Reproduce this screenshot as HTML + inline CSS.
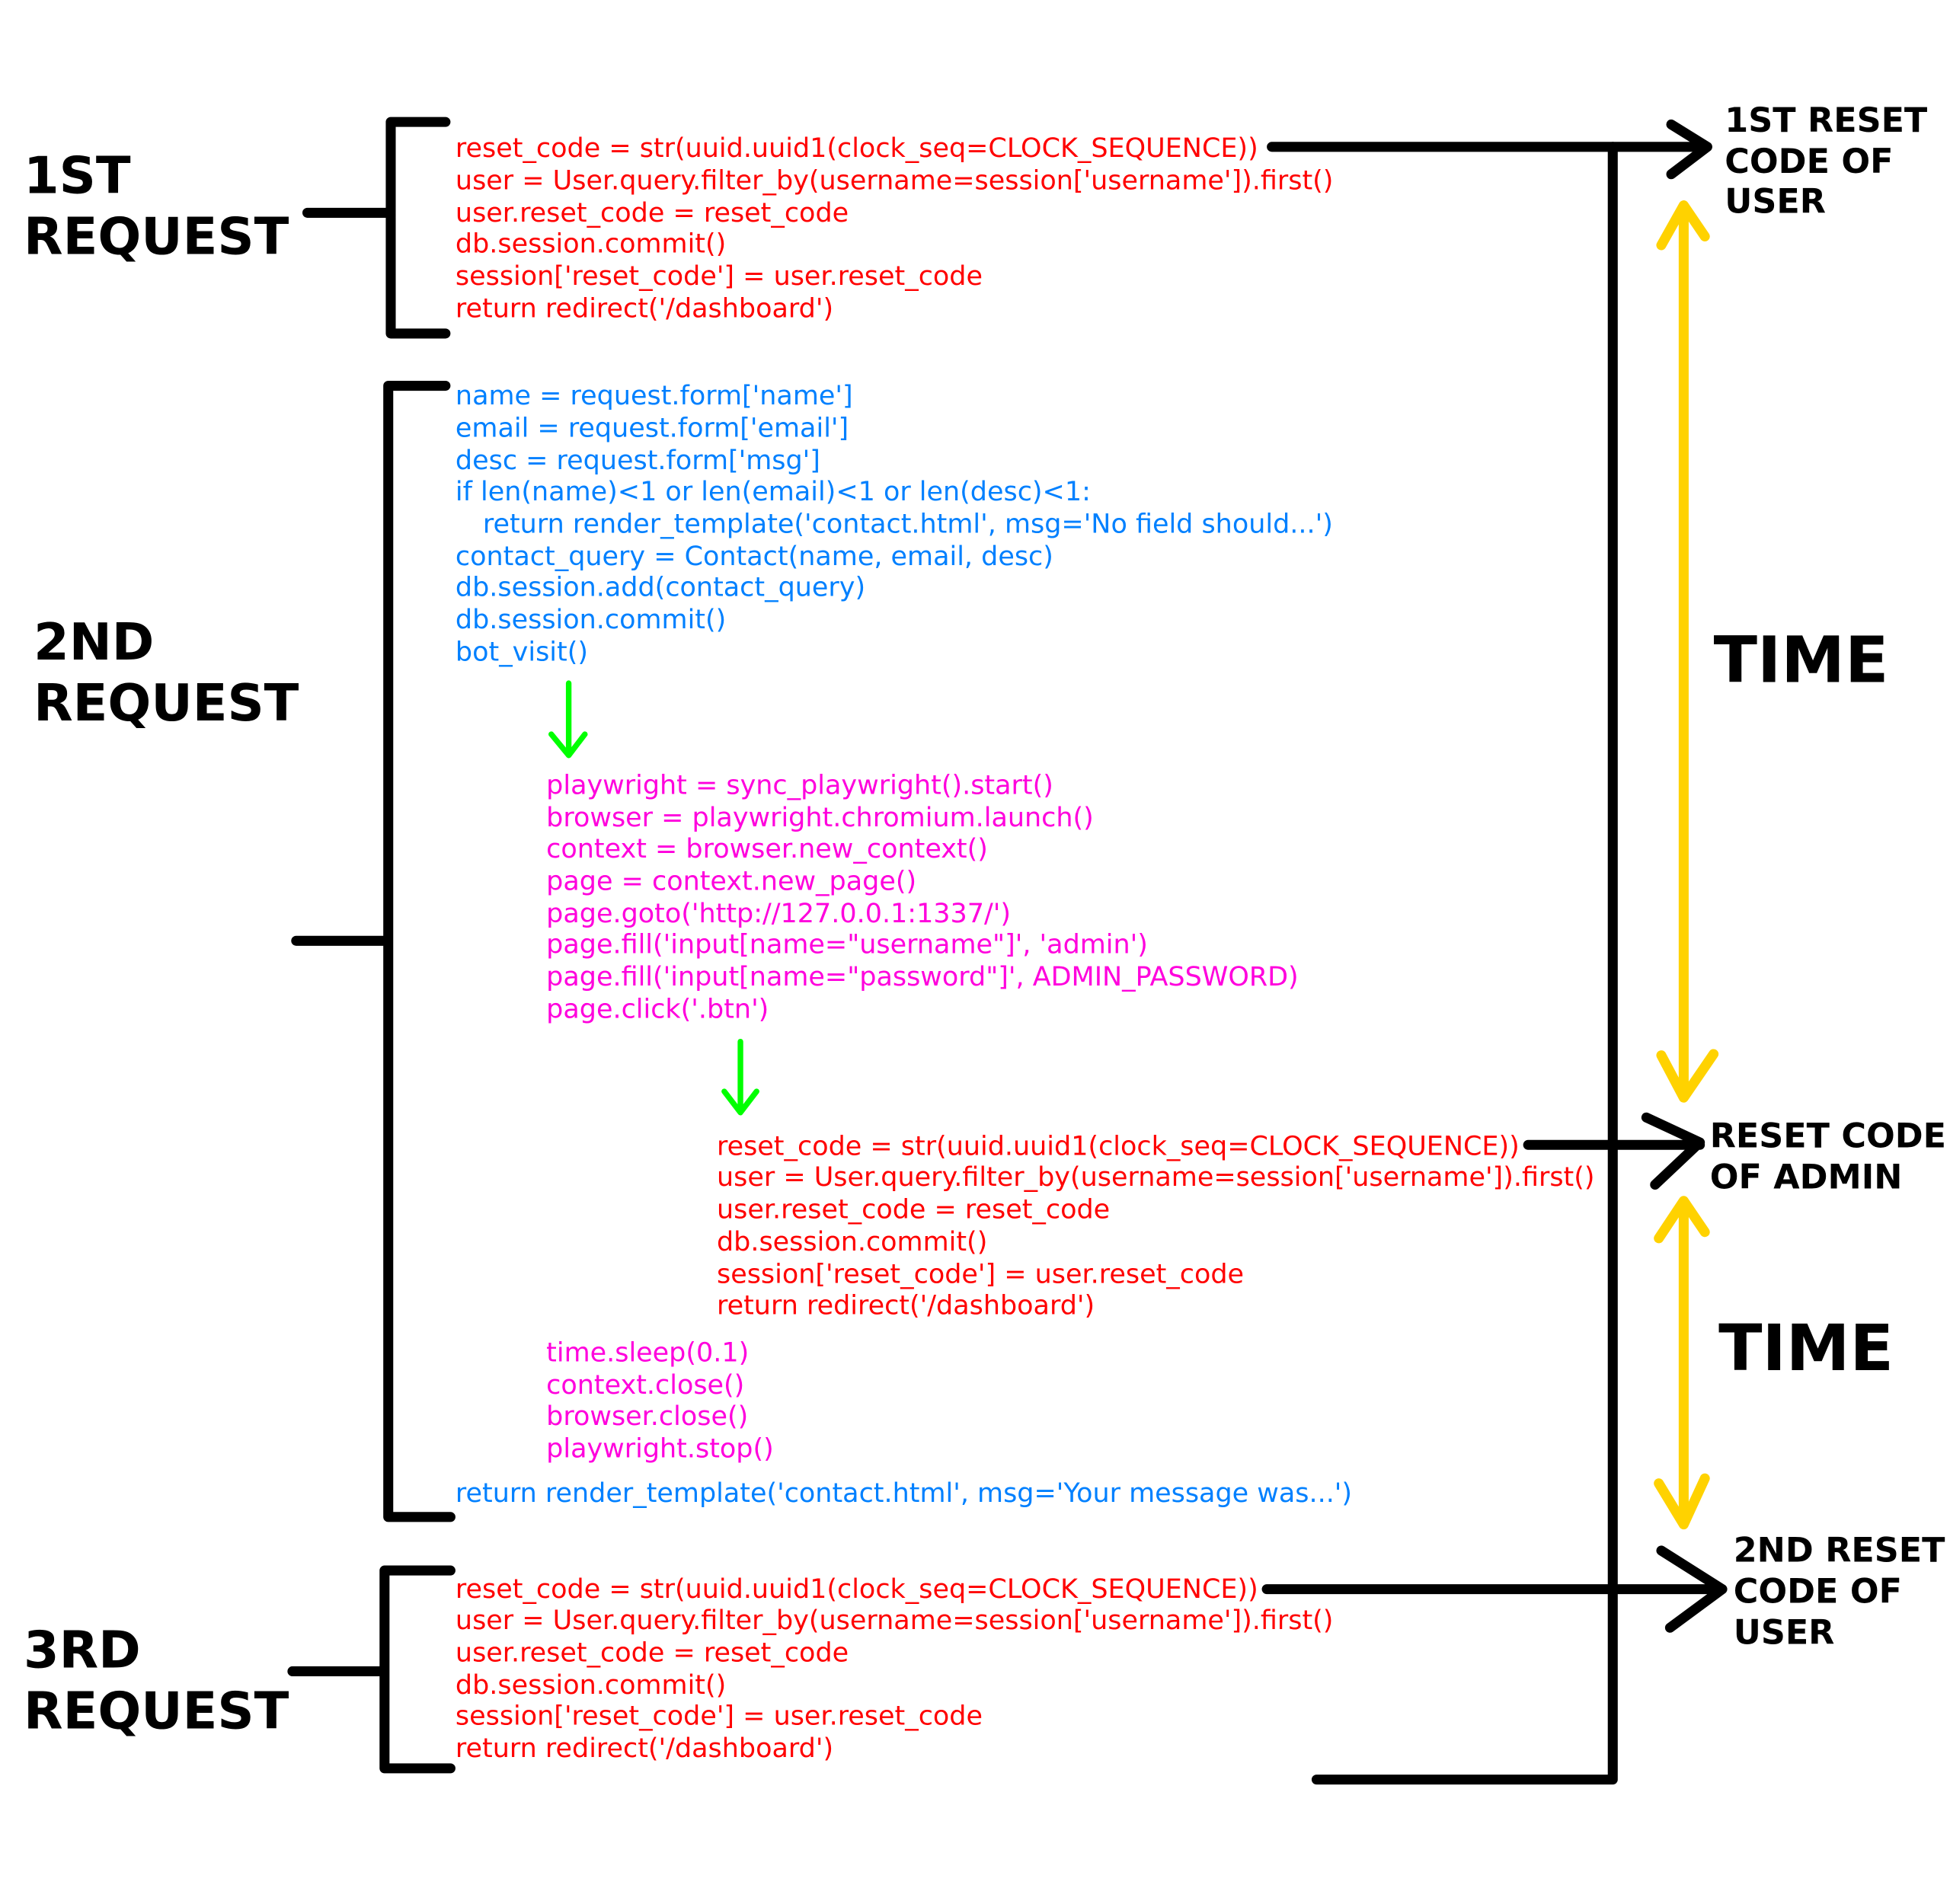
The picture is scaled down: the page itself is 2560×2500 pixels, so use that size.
<!DOCTYPE html>
<html><head><meta charset="utf-8"><style>html,body{margin:0;padding:0;background:#fff}svg{display:block}</style></head>
<body>
<svg width="2560" height="2500" viewBox="0 0 1567 1530" preserveAspectRatio="none" xmlns="http://www.w3.org/2000/svg">
<g font-family="DejaVu Sans, sans-serif" font-size="21.4">
<g fill="#ff0000">
<text x="366" y="126">reset_code = str(uuid.uuid1(clock_seq=CLOCK_SEQUENCE))</text>
<text x="366" y="152">user = User.query.filter_by(username=session['username']).first()</text>
<text x="366" y="178">user.reset_code = reset_code</text>
<text x="366" y="203">db.session.commit()</text>
<text x="366" y="229">session['reset_code'] = user.reset_code</text>
<text x="366" y="255">return redirect('/dashboard')</text>
</g>
<g fill="#0080ff">
<text x="366" y="325">name = request.form['name']</text>
<text x="366" y="351">email = request.form['email']</text>
<text x="366" y="377">desc = request.form['msg']</text>
<text x="366" y="402">if len(name)&lt;1 or len(email)&lt;1 or len(desc)&lt;1:</text>
<text x="388" y="428">return render_template('contact.html', msg='No field should...')</text>
<text x="366" y="454">contact_query = Contact(name, email, desc)</text>
<text x="366" y="479">db.session.add(contact_query)</text>
<text x="366" y="505">db.session.commit()</text>
<text x="366" y="531">bot_visit()</text>
<text x="366" y="1207">return render_template('contact.html', msg='Your message was...')</text>
</g>
<g fill="#ff00dd">
<text x="439" y="638">playwright = sync_playwright().start()</text>
<text x="439" y="664">browser = playwright.chromium.launch()</text>
<text x="439" y="689">context = browser.new_context()</text>
<text x="439" y="715">page = context.new_page()</text>
<text x="439" y="741">page.goto('http://127.0.0.1:1337/')</text>
<text x="439" y="766">page.fill('input[name="username"]', 'admin')</text>
<text x="439" y="792">page.fill('input[name="password"]', ADMIN_PASSWORD)</text>
<text x="439" y="818">page.click('.btn')</text>
<text x="439" y="1094">time.sleep(0.1)</text>
<text x="439" y="1120">context.close()</text>
<text x="439" y="1145">browser.close()</text>
<text x="439" y="1171">playwright.stop()</text>
</g>
<g fill="#ff0000">
<text x="576" y="928">reset_code = str(uuid.uuid1(clock_seq=CLOCK_SEQUENCE))</text>
<text x="576" y="953">user = User.query.filter_by(username=session['username']).first()</text>
<text x="576" y="979">user.reset_code = reset_code</text>
<text x="576" y="1005">db.session.commit()</text>
<text x="576" y="1031">session['reset_code'] = user.reset_code</text>
<text x="576" y="1056">return redirect('/dashboard')</text>
<text x="366" y="1284">reset_code = str(uuid.uuid1(clock_seq=CLOCK_SEQUENCE))</text>
<text x="366" y="1309">user = User.query.filter_by(username=session['username']).first()</text>
<text x="366" y="1335">user.reset_code = reset_code</text>
<text x="366" y="1361">db.session.commit()</text>
<text x="366" y="1386">session['reset_code'] = user.reset_code</text>
<text x="366" y="1412">return redirect('/dashboard')</text>
</g>
</g>
<g font-family="DejaVu Sans, sans-serif" font-weight="bold" fill="#000">
<g font-size="41">
<text x="19" y="155">1ST</text><text x="19" y="204">REQUEST</text>
<text x="27" y="530">2ND</text><text x="27" y="579">REQUEST</text>
<text x="19" y="1340">3RD</text><text x="19" y="1389">REQUEST</text>
</g>
<g font-size="27.2">
<text x="1386" y="106">1ST RESET</text><text x="1386" y="139">CODE OF</text><text x="1386" y="171">USER</text>
<text x="1374" y="922">RESET CODE</text><text x="1374" y="955">OF ADMIN</text>
<text x="1393" y="1255">2ND RESET</text><text x="1393" y="1288">CODE OF</text><text x="1393" y="1321">USER</text>
</g>
<g font-size="51.5">
<text x="1377" y="548">TIME</text><text x="1381" y="1101">TIME</text>
</g>
</g>
<g stroke="#000" stroke-width="8" fill="none" stroke-linecap="round" stroke-linejoin="round">
<path d="M358 98 H314 V268 H358 M247 171 H314"/>
<path d="M358 310 H312 V1219 H362 M238 756 H312"/>
<path d="M362 1262 H309 V1421 H362 M235 1343 H309"/>
<path d="M1296 118 V1430 H1058"/>
<path d="M1022 118 H1370 M1343 100 L1372 118 L1343 140"/>
<path d="M1228 920 H1366 M1323 898 L1366 918 L1330 952"/>
<path d="M1018 1277 H1384 M1335 1246 L1384 1277 L1342 1308"/>
</g>
<g stroke="#ffd200" stroke-width="8" fill="none" stroke-linecap="round" stroke-linejoin="round">
<path d="M1353 167 V880 M1335 197 L1353 165 L1370 190 M1335 848 L1353 882 L1377 847"/>
<path d="M1353 967 V1223 M1333 995 L1353 965 L1370 990 M1333 1192 L1353 1225 L1370 1188"/>
</g>
<g stroke="#00ff00" stroke-width="4.5" fill="none" stroke-linecap="round" stroke-linejoin="round">
<path d="M457 549 V606 M443 590 L457 607 L470 590"/>
<path d="M595 837 V893 M582 877 L595 894 L608 877"/>
</g>
</svg>
</body></html>
